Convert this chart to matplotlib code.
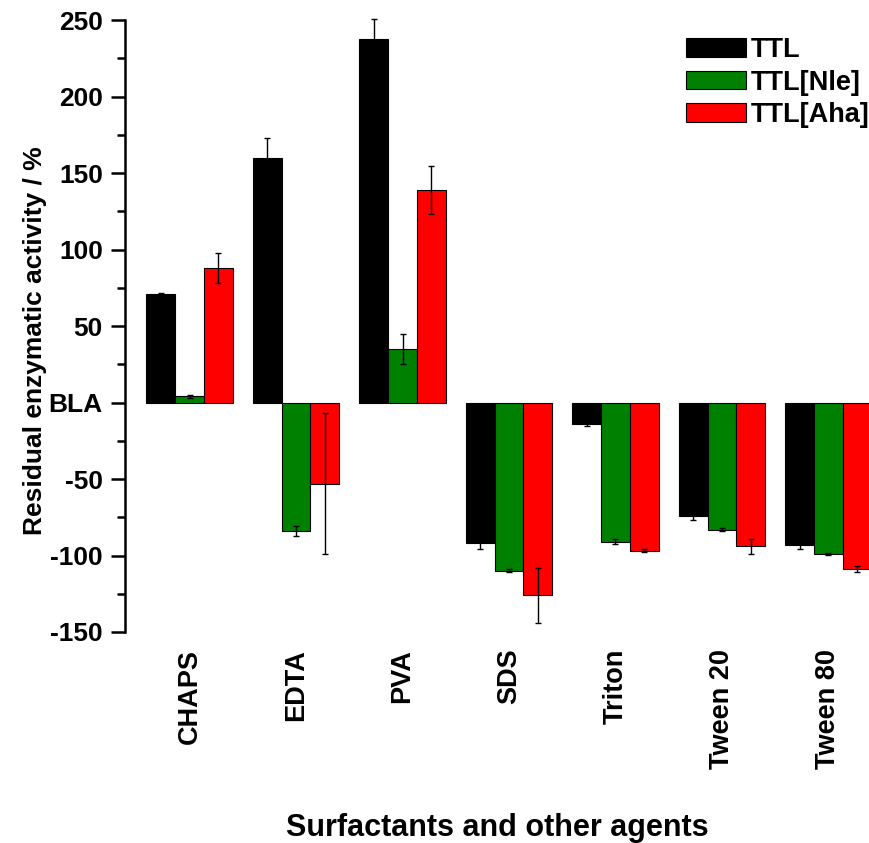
import numpy as np
import matplotlib.pyplot as plt
from matplotlib.ticker import MultipleLocator

plt.rcParams["font.family"] = ["Liberation Sans", "DejaVu Sans"]

agents = ["CHAPS", "EDTA", "PVA", "SDS", "Triton", "Tween 20", "Tween 80"]
series = ["TTL", "TTL[Nle]", "TTL[Aha]"]
colors = ["#000000", "#008000", "#ff0000"]

ttl = [71, 160, 238, -92, -14, -74, -93]
ttl_err = [0.5, 13, 13, 4, 1, 2.5, 3]
nle = [4, -84, 35, -110, -91, -83, -99]
nle_err = [1, 3, 10, 1, 1.5, 1, 0.5]
aha = [88, -53, 139, -126, -97, -94, -109]
aha_err = [10, 46, 16, 18, 1, 5, 2]

values = [ttl, nle, aha]
errors = [ttl_err, nle_err, aha_err]

fig = plt.figure(figsize=(8.7, 8.43), dpi=100)
ax = fig.add_axes([0.1437, 0.2503, 0.8563, 0.7257 * 402 / 400])

x = np.arange(len(agents))
w = 0.27
for i, (vals, errs, c, lab) in enumerate(zip(values, errors, colors, series)):
    ax.bar(x + (i - 1) * w, vals, width=w, color=c, edgecolor="black",
           linewidth=0.8, label=lab, zorder=2)
    ax.errorbar(x + (i - 1) * w, vals, yerr=errs, fmt="none", ecolor="black",
                elinewidth=1.0, capsize=2.5, capthick=1.0, zorder=3)

ax.set_xlim(-0.606, 6.39)
ax.set_ylim(-150, 252)
ax.spines["top"].set_visible(False)
ax.spines["right"].set_visible(False)
ax.spines["bottom"].set_visible(False)
ax.spines["left"].set_linewidth(1.8)
ax.spines["left"].set_bounds(-150, 250)

ax.set_yticks(np.arange(-150, 251, 50))
ax.set_yticklabels(["BLA" if v == 0 else str(v) for v in range(-150, 251, 50)],
                   fontsize=19, fontweight="bold")
ax.yaxis.set_minor_locator(MultipleLocator(25))
ax.tick_params(axis="y", which="major", length=10, width=1.8, pad=6)
ax.tick_params(axis="y", which="minor", length=5.5, width=1.8)

ax.set_xticks(x)
ax.set_xticklabels(agents, rotation=90, fontsize=19.5, fontweight="bold")
ax.tick_params(axis="x", length=0, pad=12)

ax.set_ylabel("Residual enzymatic activity / %", fontsize=19, fontweight="bold")
ax.yaxis.set_label_coords(-0.105, 0.474)
ax.set_xlabel("Surfactants and other agents", fontsize=22, fontweight="bold",
              labelpad=32)

ax.legend(loc="upper right", bbox_to_anchor=(870 / 870, 1 - 37 / 843),
          bbox_transform=fig.transFigure, frameon=False,
          prop={"size": 19.5, "weight": "bold"}, handlelength=2.2,
          handleheight=0.65, handletextpad=0.2, labelspacing=0.24,
          borderpad=0.0, borderaxespad=0.0)

fig.savefig("out.png", dpi=100)
